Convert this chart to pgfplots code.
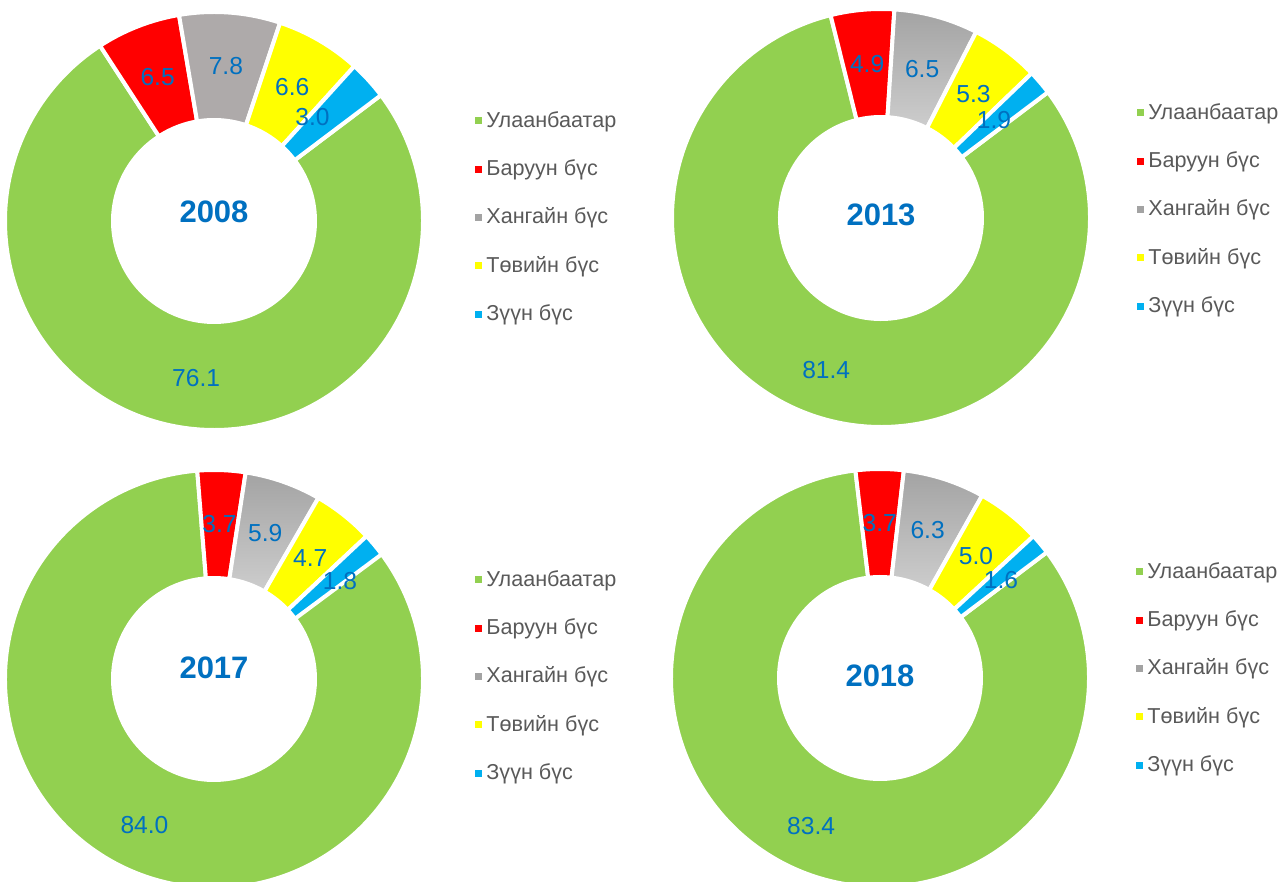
\documentclass[border=0pt]{standalone}
\usepackage{fontspec}
\setmainfont{Liberation Sans}
\usepackage{pgfplots}
\usepackage{pgfplotstable}
\pgfplotsset{compat=1.18}
\definecolor{cUB}{HTML}{92D050}
\definecolor{cW}{HTML}{FF0000}
\definecolor{cK}{HTML}{AEAAAA}
\definecolor{cKtop}{HTML}{A3A3A3}
\definecolor{cKbot}{HTML}{CDCDCD}
\definecolor{cC}{HTML}{FFFF00}
\definecolor{cE}{HTML}{00B0F0}
\definecolor{lab}{HTML}{0070C0}
\definecolor{leg}{HTML}{595959}

\pgfplotstableread{
year UB   West Khangai Central East
2008 76.1 6.5  7.8     6.6     3.0
2013 81.4 4.9  6.5     5.3     1.9
2017 84.0 3.7  5.9     4.7     1.8
2018 83.4 3.7  6.3     5.0     1.6
}\shares

\def\Ro{209}\def\Ri{101}\def\Rl{155}
\tikzset{slicelab/.style={text=lab,font=\fontsize{12.3}{14}\selectfont,inner sep=0pt},
         yearlab/.style={text=lab,font=\bfseries\fontsize{15.5}{18}\selectfont,inner sep=0pt}}

\newcommand\getv[2]{\pgfplotstablegetelem{#1}{#2}\of\shares\let\val\pgfplotsretval}
% #1 value, #2 fill style, #3 #4 label shift (px)
\newcommand\slice[4]{%
  \pgfmathsetmacro\aS{\acur}%
  \pgfmathsetmacro\aE{\acur-3.6*#1}%
  \pgfmathsetmacro\aM{(\aS+\aE)/2}%
  \pgfmathsetmacro\xa{\Ro*cos(\aS)}\pgfmathsetmacro\ya{\Ro*sin(\aS)}%
  \pgfmathsetmacro\xb{\Ri*cos(\aE)}\pgfmathsetmacro\yb{\Ri*sin(\aE)}%
  \pgfmathsetmacro\xl{\Rl*cos(\aM)+#3}\pgfmathsetmacro\yl{\Rl*sin(\aM)+#4}%
  \pgfmathsetmacro\rop{\Ro*0.5}\pgfmathsetmacro\rip{\Ri*0.5}%
  \edef\tmp{\noexpand\path[#2,draw=white,line width=2pt] (axis cs:\xa,\ya) arc[start angle=\aS,end angle=\aE,radius=\rop pt] -- (axis cs:\xb,\yb) arc[start angle=\aE,end angle=\aS,radius=\rip pt] -- cycle;
    \noexpand\node[slicelab] at (axis cs:\xl,\yl) {#1};}%
  \tmp
  \global\let\acur\aE
}
% #1 row, #2 year, #3 gray style, #4 title dy, #5 green label shift, #6 east label shift
\newcommand\donutbody[6]{%
  \gdef\acur{37}%
  \getv{#1}{UB}\slice{\val}{fill=cUB}#5%
  \getv{#1}{West}\slice{\val}{fill=cW}{0}{0}%
  \getv{#1}{Khangai}\slice{\val}{#3}{0}{0}%
  \getv{#1}{Central}\slice{\val}{fill=cC}{0}{0}%
  \getv{#1}{East}\slice{\val}{fill=cE}#6%
  \node[yearlab] at (axis cs:0,#4) {#2};
  \addlegendimage{fill=cUB}\addlegendentry{Улаанбаатар}
  \addlegendimage{fill=cW}\addlegendentry{Баруун бүс}
  \addlegendimage{fill=cKtop}\addlegendentry{Хангайн бүс}
  \addlegendimage{fill=cC}\addlegendentry{Төвийн бүс}
  \addlegendimage{fill=cE}\addlegendentry{Зүүн бүс}
}
\pgfplotsset{donut/.style={x=0.5pt,y=0.5pt,xmin=-220,xmax=220,ymin=-220,ymax=220,
  enlargelimits=false,hide axis,clip=false,anchor=center,
  legend cell align=left,
  legend style={draw=none,fill=none,text=leg,font=\fontsize{10.8}{12}\selectfont,
    row sep=10.7pt,anchor=north west,inner sep=0pt},
  legend image code/.code={\fill[##1,draw=none] (0pt,-1.75pt) rectangle (3.5pt,1.75pt);}}}

\begin{document}
\begin{tikzpicture}
\useasboundingbox (0,0) rectangle (640pt,441pt);
\begin{axis}[donut,at={(107pt,330.5pt)},legend style={at={(axis cs:261,114)}}]
\donutbody{0}{2008}{fill=cK}{9}{{9}{-4}}{{-16}{-1}}
\end{axis}
\begin{axis}[donut,at={(440.5pt,332pt)},legend style={at={(axis cs:256,119)}}]
\donutbody{1}{2013}{top color=cKtop,bottom color=cKbot}{3}{{-3}{-6}}{{-5}{-3}}
\end{axis}
\begin{axis}[donut,at={(107pt,101.5pt)},legend style={at={(axis cs:261,113)}}]
\donutbody{2}{2017}{top color=cKtop,bottom color=cKbot}{11}{{-6}{-5}}{{7}{-1}}
\end{axis}
\begin{axis}[donut,at={(440pt,102pt)},legend style={at={(axis cs:256,120)}}]
\donutbody{3}{2018}{top color=cKtop,bottom color=cKbot}{2}{{-8}{-5}}{{2}{-1}}
\end{axis}
\end{tikzpicture}
\end{document}
